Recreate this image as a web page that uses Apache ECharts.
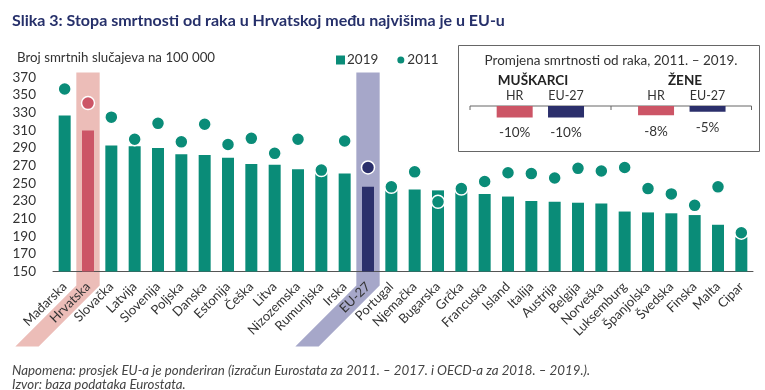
<!DOCTYPE html>
<html>
<head>
<meta charset="utf-8">
<script src="https://cdn.jsdelivr.net/npm/echarts@6/dist/echarts.min.js"></script>
<style>html,body{margin:0;padding:0;background:#fff}#c{width:765px;height:390px}</style>
</head>
<body>
<div id="c"></div>
<script>
const categories = ['Mađarska','Hrvatska','Slovačka','Latvija','Slovenija','Poljska','Danska','Estonija','Češka','Litva','Nizozemska','Rumunjska','Irska','EU-27','Portugal','Njemačka','Bugarska','Grčka','Francuska','Island','Italija','Austrija','Belgija','Norveška','Luksemburg','Španjolska','Švedska','Finska','Malta','Cipar'];
const values2019 = [327,310,293,292,290,283,282,279,272,271,266,262,261,246,242,243,242,240,238,235,230,229,228,227,218,217,216,214,203,189];
const values2011 = [357,341,325,300,318,297,317,294,301,284,300,265,298,268,246,263,229,244,252,262,261,256,267,264,268,244,238,225,246,194];
const yTickMin = 150, yTickMax = 370, yTickStep = 20;
const insetCategories = ['HR','EU-27'];
const insetMen = [-10,-10];
const insetWomen = [-8,-5];

const TEAL = '#0a8c78', PINK = '#cc5566', NAVY = '#2b2f6b';
const FONT = 'Lato';
const colorFor = c => c === 'Hrvatska' ? PINK : (c === 'EU-27' ? NAVY : TEAL);

const chart = echarts.init(document.getElementById('c'), null, {renderer:'canvas'});

const option = {
  animation: false,
  textStyle: {fontFamily: FONT},
  title: [
    {text: 'Slika 3: Stopa smrtnosti od raka u Hrvatskoj među najvišima je u EU-u', left: 7, top: 8,
     textStyle: {fontFamily: FONT, fontSize: 16, fontWeight: 'bold', color: '#26306a'}},
    {text: 'Broj smrtnih slučajeva na 100 000', left: 12, top: 46,
     textStyle: {fontFamily: FONT, fontSize: 13.3, fontWeight: 'normal', color: '#333'}},
    {text: 'Napomena: prosjek EU-a je ponderiran (izračun Eurostata za 2011. – 2017. i OECD-a za 2018. – 2019.).\nIzvor: baza podataka Eurostata.',
     left: 7, top: 358,
     textStyle: {fontFamily: FONT, fontSize: 13.3, fontStyle: 'italic', fontWeight: 'normal', color: '#444', lineHeight: 14.5}}
  ],
  legend: {
    left: 331, top: 48, itemWidth: 9, itemHeight: 9, itemGap: 17,
    textStyle: {fontFamily: FONT, fontSize: 13.5, color: '#333', padding: [0,0,0,-3]},
    data: [{name:'2019', icon:'rect'}, {name:'2011', icon:'circle'}]
  },
  grid: [
    {left: 53, right: 12, top: 77.5, bottom: 118.5},
    {left: 489, width: 102.7, top: 106, height: 11.5},
    {left: 630.3, width: 103, top: 106, height: 11.5}
  ],
  xAxis: [
    {type: 'category', data: categories, gridIndex: 0,
     axisLine: {lineStyle: {color: '#555', width: 1}}, axisTick: {show: false},
     axisLabel: {rotate: 45, interval: 0, margin: 13, fontFamily: FONT, fontSize: 13, color: '#333'}},
    {type: 'category', data: insetCategories, gridIndex: 1, position: 'top',
     axisLine: {show: false}, axisTick: {show: false},
     axisLabel: {margin: 4, fontFamily: FONT, fontSize: 12.5, color: '#333'}},
    {type: 'category', data: insetCategories, gridIndex: 2, position: 'top',
     axisLine: {show: false}, axisTick: {show: false},
     axisLabel: {margin: 4, fontFamily: FONT, fontSize: 12.5, color: '#333'}}
  ],
  yAxis: [
    {type: 'value', gridIndex: 0, min: yTickMin, max: yTickMax, interval: yTickStep,
     axisLine: {show: false}, axisTick: {show: false}, splitLine: {show: false},
     axisLabel: {margin: 17, fontFamily: FONT, fontSize: 13.5, color: '#333'}},
    {type: 'value', gridIndex: 1, min: -10, max: 0, show: false},
    {type: 'value', gridIndex: 2, min: -10, max: 0, show: false}
  ],
  series: [
    {name: '2019', type: 'bar', xAxisIndex: 0, yAxisIndex: 0, barWidth: 12, z: 3,
     itemStyle: {color: TEAL},
     data: values2019.map((v, i) => ({value: v, itemStyle: {color: colorFor(categories[i])}}))},
    {name: '2011', type: 'scatter', xAxisIndex: 0, yAxisIndex: 0, symbolSize: 13, z: 4,
     itemStyle: {color: TEAL, borderColor: '#fff', borderWidth: 1.5, opacity: 1},
     data: values2011.map((v, i) => ({value: v, itemStyle: {color: colorFor(categories[i])}}))},
    {name: 'Muškarci', type: 'bar', xAxisIndex: 1, yAxisIndex: 1, barWidth: 36,
     label: {show: true, position: 'bottom', distance: 8, formatter: p => p.value + '%', fontFamily: FONT, fontSize: 13.5, color: '#333'},
     data: insetMen.map((v, i) => ({value: v, itemStyle: {color: i === 0 ? PINK : NAVY}}))},
    {name: 'Žene', type: 'bar', xAxisIndex: 2, yAxisIndex: 2, barWidth: 36,
     label: {show: true, position: 'bottom', distance: 9, formatter: p => p.value + '%', fontFamily: FONT, fontSize: 13.5, color: '#333'},
     data: insetWomen.map((v, i) => ({value: v, itemStyle: {color: i === 0 ? PINK : NAVY}}))}
  ]
};
chart.setOption(option);

// decorative highlight bands and inset frame
function band(cat, color) {
  const cx = chart.convertToPixel({xAxisIndex: 0}, cat);
  const half = (765 - 53 - 12) / categories.length / 2;
  const top = chart.convertToPixel({yAxisIndex: 0}, yTickMax) - 5;
  const axisY = chart.convertToPixel({yAxisIndex: 0}, yTickMin);
  const kink = axisY + 14, bottom = axisY + 75, sh = bottom - kink;
  return {type: 'polygon', z: -10, silent: true,
    shape: {points: [[cx-half, top],[cx+half, top],[cx+half, kink],[cx+half-sh, bottom],[cx-half-sh, bottom],[cx-half, kink]]},
    style: {fill: color}};
}
const lineY = chart.convertToPixel({yAxisIndex: 1}, 0);
chart.setOption({
  graphic: [
    band('Hrvatska', '#ecbdb8'),
    band('EU-27', '#a6a7c9'),
    {type: 'rect', z: -5, silent: true, shape: {x: 458.5, y: 45.5, width: 301, height: 106},
     style: {fill: 'none', stroke: '#666', lineWidth: 1}},
    {type: 'text', z: 2, style: {text: 'Promjena smrtnosti od raka, 2011. – 2019.', x: 611, y: 61, align: 'center', verticalAlign: 'middle', font: '13.5px Lato', fill: '#333'}},
    {type: 'text', z: 2, style: {text: 'MUŠKARCI', x: 533, y: 81, align: 'center', verticalAlign: 'middle', font: 'bold 13.5px Lato', fill: '#222'}},
    {type: 'text', z: 2, style: {text: 'ŽENE', x: 685, y: 81, align: 'center', verticalAlign: 'middle', font: 'bold 13.5px Lato', fill: '#222'}},
    {type: 'polyline', z: 2, silent: true, shape: {points: [[470, lineY+4],[470, lineY],[751.5, lineY],[751.5, lineY+4]]}, style: {stroke: '#666', lineWidth: 1, fill: null}},
    {type: 'line', z: 2, silent: true, shape: {x1: 611, y1: lineY, x2: 611, y2: lineY+4}, style: {stroke: '#666', lineWidth: 1}}
  ]
});
</script>
</body>
</html>
